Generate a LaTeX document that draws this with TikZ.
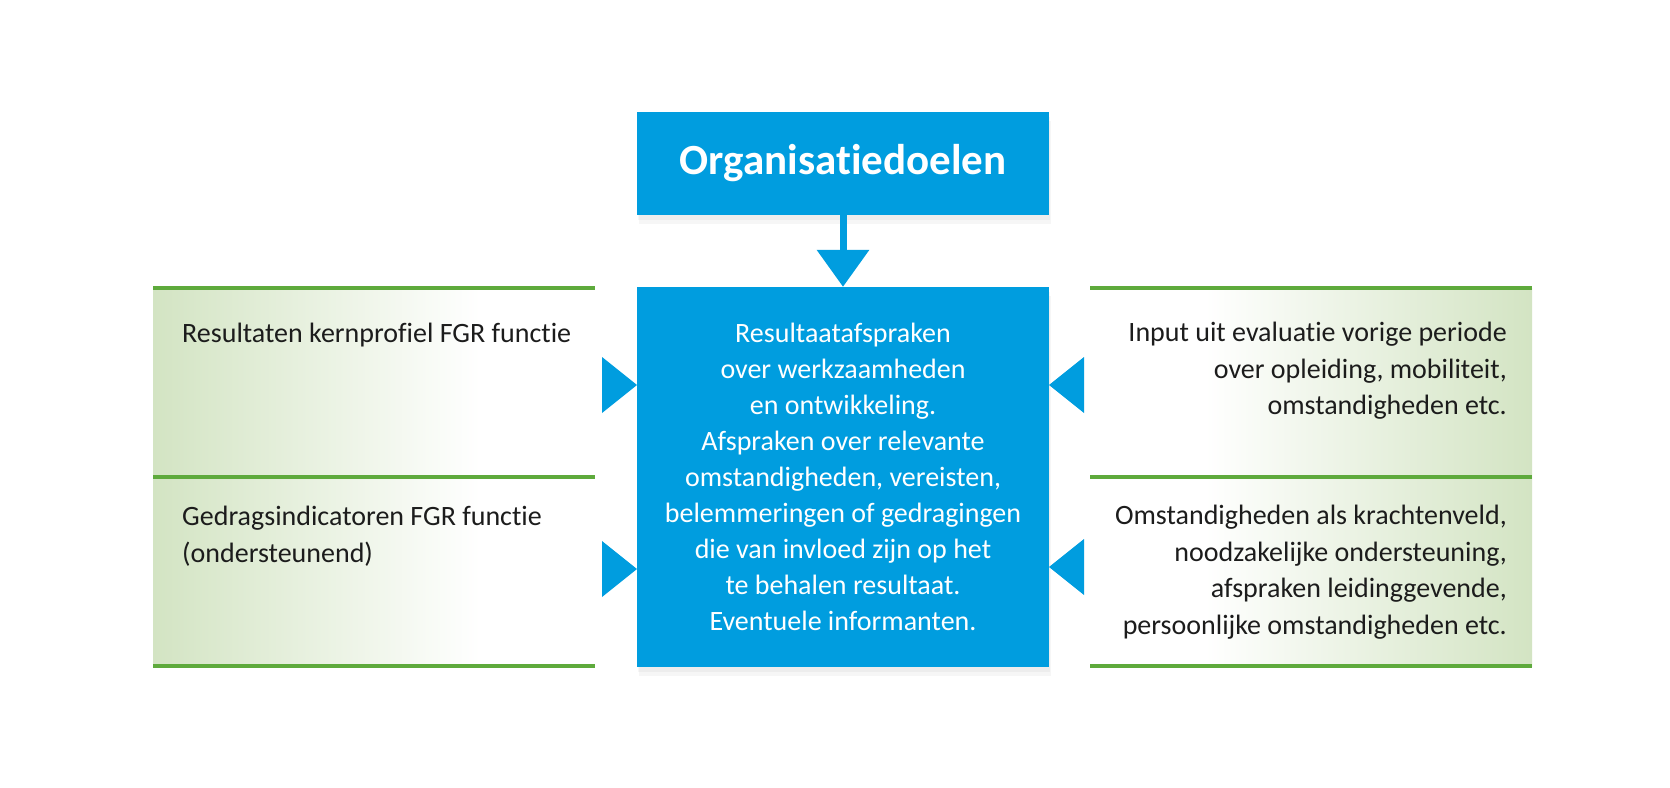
\documentclass[tikz,border=0pt]{standalone}
\usepackage{fontspec}
\setmainfont[RawFeature = {-liga;-clig;-calt;-dlig}]{Carlito}
\usepackage{tikz}
\usetikzlibrary{positioning,shadows,arrows.meta}
\definecolor{RijksBlue}{RGB}{0,157,223}
\definecolor{LeafGreen}{RGB}{94,170,60}
\definecolor{PaleGreen}{RGB}{211,228,195}
\definecolor{InkGray}{RGB}{28,28,28}

\begin{document}
\begin{tikzpicture}[x = 1pt, y = -1pt,
              bluebox/.style = {fill = RijksBlue, text = white, inner sep = 0pt, minimum width = 412pt,
                drop shadow = {opacity = 0.07, shadow xshift = 2pt, shadow yshift = -9pt},
                drop shadow = {opacity = 0.07, shadow xshift = 1pt, shadow yshift = -5pt}},
              paneltext/.style = {text = InkGray, inner sep = 0pt, font = \fontsize{28}{36.5}\selectfont},
              greenline/.style = {draw = LeafGreen, line width = 4pt}]
              \fill [white] (0, 0) rectangle (1670, 787);
              \useasboundingbox (0, 0) rectangle (1670, 787);
              \shade [left color = PaleGreen, right color = white] (153, 288) rectangle (480, 666);
              \shade [left color = white, right color = PaleGreen] (1205, 288) rectangle (1532, 666);
              \foreach \y in {288, 477, 666}
              {\draw [greenline] (153, \y) -- (595, \y);
              \draw [greenline] (1090, \y) -- (1532, \y);}
              \node [bluebox, minimum height = 103pt, font = \bfseries\fontsize{43}{50}\selectfont] (doel) at (843, 163.5) {Organisatiedoelen};
              \node [bluebox, minimum height = 380pt, align = center, font = \fontsize{28}{36}\selectfont] (afspraken) at (843, 477)
                {Resultaatafspraken\\over werkzaamheden\\en ontwikkeling.\\Afspraken over relevante\\omstandigheden, vereisten,\\belemmeringen of gedragingen\\die van invloed zijn op het\\te behalen resultaat.\\Eventuele informanten.};
              \draw [RijksBlue, line width = 7pt, -{Triangle[width = 51pt, length = 37pt]}] (doel) -- (afspraken);
              \foreach \y in {385, 569}
              \fill [fill = RijksBlue] (637, \y) -- (602, \y-28) -- (602, \y+28) -- cycle;
              \foreach \y in {385, 567}
              \fill [fill = RijksBlue] (1049, \y) -- (1084, \y-28) -- (1084, \y+28) -- cycle;
              \node [paneltext, anchor = west] (kernprofiel) at (182, 335) {Resultaten kernprofiel FGR functie};
              \node [paneltext, anchor = west, align = left] (gedrag) at (182, 536) {Gedragsindicatoren FGR functie\\(ondersteunend)};
              \node [paneltext, anchor = east, align = right] (evaluatie) at (1507, 371) {Input uit evaluatie vorige periode\\over opleiding, mobiliteit,\\omstandigheden etc.};
              \node [paneltext, anchor = east, align = right] (krachtenveld) at (1507, 572) {Omstandigheden als krachtenveld,\\noodzakelijke ondersteuning,\\afspraken leidinggevende,\\persoonlijke omstandigheden etc.};
            \end{tikzpicture}
\end{document}
